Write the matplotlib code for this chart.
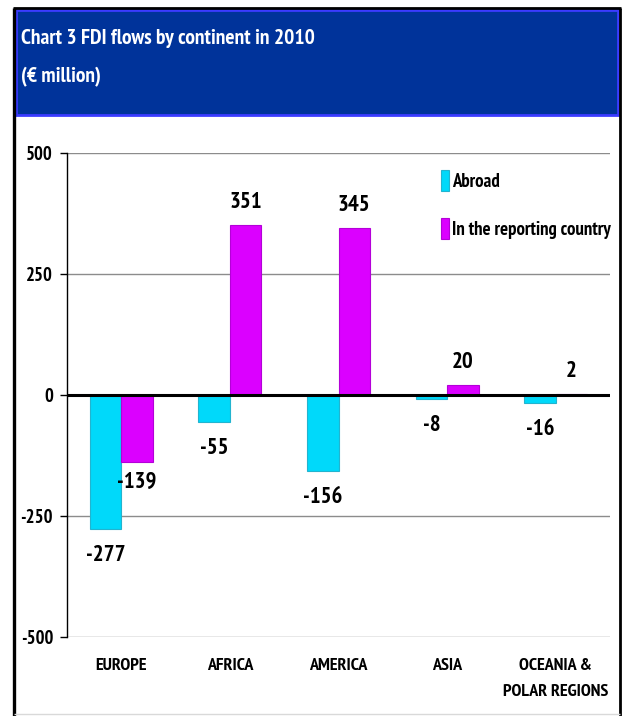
import matplotlib
matplotlib.use("Agg")
import matplotlib.pyplot as plt
from matplotlib.patches import Rectangle
from matplotlib.lines import Line2D
from matplotlib import font_manager
import numpy as np

categories = ["EUROPE", "AFRICA", "AMERICA", "ASIA", "OCEANIA &\nPOLAR REGIONS"]
abroad = [-277, -55, -156, -8, -16]
reporting = [-139, 351, 345, 20, 2]
series_names = ["Abroad", "In the reporting country"]
yticks = [-500, -250, 0, 250, 500]

installed = {f.name for f in font_manager.fontManager.ttflist}
family = next((f for f in ["PT Sans Narrow", "Open Sans Condensed", "Roboto Condensed",
                           "Asap Condensed", "Archivo Narrow", "Barlow Semi Condensed",
                           "Liberation Sans"] if f in installed), "DejaVu Sans")
plt.rcParams["font.family"] = [family, "DejaVu Sans"]
plt.rcParams["font.weight"] = "bold"

W, H = 624, 716
fig = plt.figure(figsize=(W / 100, H / 100), dpi=100)

def fx(px):
    return px / W

def fy(py):
    return 1 - py / H

def frame_line(x0, y0, x1, y1, color, lw):
    fig.add_artist(Line2D([fx(x0), fx(x1)], [fy(y0), fy(y1)], transform=fig.transFigure,
                          color=color, linewidth=lw, solid_capstyle="butt"))

# outer frame
frame_line(14, 8, 14, 716, "black", 2.4)
frame_line(620, 8, 620, 716, "black", 2.0)
frame_line(13, 8, 621, 8, "black", 2.0)
frame_line(14, 714, 620, 714, "#d9d9d9", 1.0)

# title band
fig.patches.append(Rectangle((fx(16), fy(115)), fx(618) - fx(16), fy(10) - fy(115),
                             transform=fig.transFigure, facecolor="#00339a",
                             edgecolor="#3b3bff", linewidth=2, zorder=1))
fig.text(fx(21), fy(39), "Chart 3 FDI flows by continent in 2010", color="white",
         fontsize=15.5, fontweight="bold", va="center", ha="left")
fig.text(fx(21), fy(77), "(€ million)", color="white",
         fontsize=15.5, fontweight="bold", va="center", ha="left")

ax = fig.add_axes([fx(67), fy(637), fx(610) - fx(67), fy(153) - fy(637)])
x = np.arange(len(categories))
w = 0.29
cyan = "#00d9fa"
magenta = "#db00ff"
ax.bar(x - w / 2, abroad, w, color=cyan, edgecolor="#22b4cf", linewidth=0.8,
       label=series_names[0], zorder=3)
ax.bar(x + w / 2, reporting, w, color=magenta, edgecolor="#b400d8", linewidth=0.8,
       label=series_names[1], zorder=3)

ax.set_xlim(-0.5, len(categories) - 0.5)
ax.set_ylim(-500, 500)
ax.set_yticks(yticks)
ax.set_yticklabels([str(t) for t in yticks], fontsize=13.5, fontweight="bold")
ax.set_xticks(x)
ax.set_xticklabels(categories, fontsize=13, fontweight="bold", linespacing=1.85,
                   va="top")
ax.tick_params(axis="x", length=0, pad=15)
ax.tick_params(axis="y", length=5, width=1, pad=5)
ax.grid(axis="y", color="#8c8c8c", linewidth=1, zorder=0)
ax.axhline(0, color="black", linewidth=2.2, zorder=4)
for s in ["top", "right", "bottom"]:
    ax.spines[s].set_visible(False)
ax.spines["left"].set_linewidth(1)

# value labels sit just beyond the bar ends
for xi, v in zip(x, abroad):
    ax.text(xi - w / 2, v - 55, str(v), ha="center", va="center",
            fontsize=16.5, fontweight="bold", zorder=5)
for xi, v in zip(x, reporting):
    ax.text(xi + w / 2, v - 42 if v < 0 else v + 47, str(v), ha="center",
            va="center", fontsize=16.5, fontweight="bold", zorder=5)

ax_w = fx(610) - fx(67)
leg = ax.legend(loc="upper left", bbox_to_anchor=((fx(433) - fx(67)) / ax_w, 0.98),
                frameon=False, fontsize=13.5, handlelength=0.45, handleheight=1.35,
                handletextpad=0.15, labelspacing=1.45, borderaxespad=0)

fig.savefig("out.png", dpi=100)
